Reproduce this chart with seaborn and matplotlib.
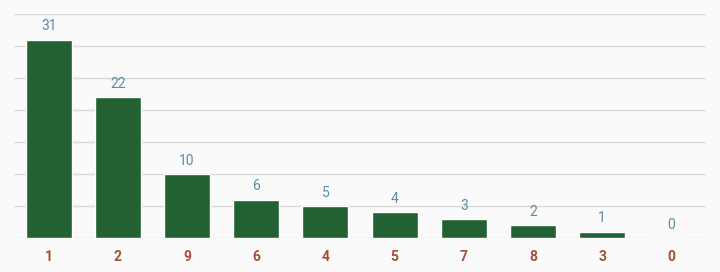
import matplotlib
matplotlib.use("Agg")
import matplotlib.pyplot as plt
import seaborn as sns
import pandas as pd

categories = ["1", "2", "9", "6", "4", "5", "7", "8", "3", "0"]
counts = [31, 22, 10, 6, 5, 4, 3, 2, 1, 0]

bar_color = "#246132"
value_color = "#5e8aa6"
tick_color = "#a3503a"
grid_color = "#d9d9d9"
bg_color = "#fafafa"

sns.set_theme(style="white")
plt.rcParams["font.family"] = ["Roboto", "DejaVu Sans"]

df = pd.DataFrame({"category": categories, "count": counts})

fig = plt.figure(figsize=(7.2, 2.72), dpi=100, facecolor=bg_color)
ax = fig.add_axes([14 / 720, 34 / 272, 692 / 720, 224 / 272])
ax.set_facecolor(bg_color)

sns.barplot(data=df, x="category", y="count", order=categories,
            color=bar_color, saturation=1, width=0.665, ax=ax, zorder=3)

ax.set_ylim(0, 35)
ax.set_xlim(-0.5, len(categories) - 0.5)
ax.set_yticks(range(0, 36, 5))
ax.yaxis.grid(True, color=grid_color, linewidth=1, zorder=0)
ax.set_axisbelow(True)
ax.tick_params(axis="y", left=False, labelleft=False, length=0)
ax.tick_params(axis="x", bottom=False, length=0, pad=8.5,
               labelsize=10, labelcolor=tick_color)
for lbl in ax.get_xticklabels():
    lbl.set_fontweight("bold")
ax.set_xlabel("")
ax.set_ylabel("")
for side in ["top", "right", "left", "bottom"]:
    ax.spines[side].set_visible(False)

for i, v in enumerate(counts):
    ax.annotate(str(v), (i, v), xytext=(0, 4.5), textcoords="offset points",
                ha="center", va="bottom", fontsize=10, color=value_color)

fig.savefig("out.png", dpi=100, facecolor=bg_color)
